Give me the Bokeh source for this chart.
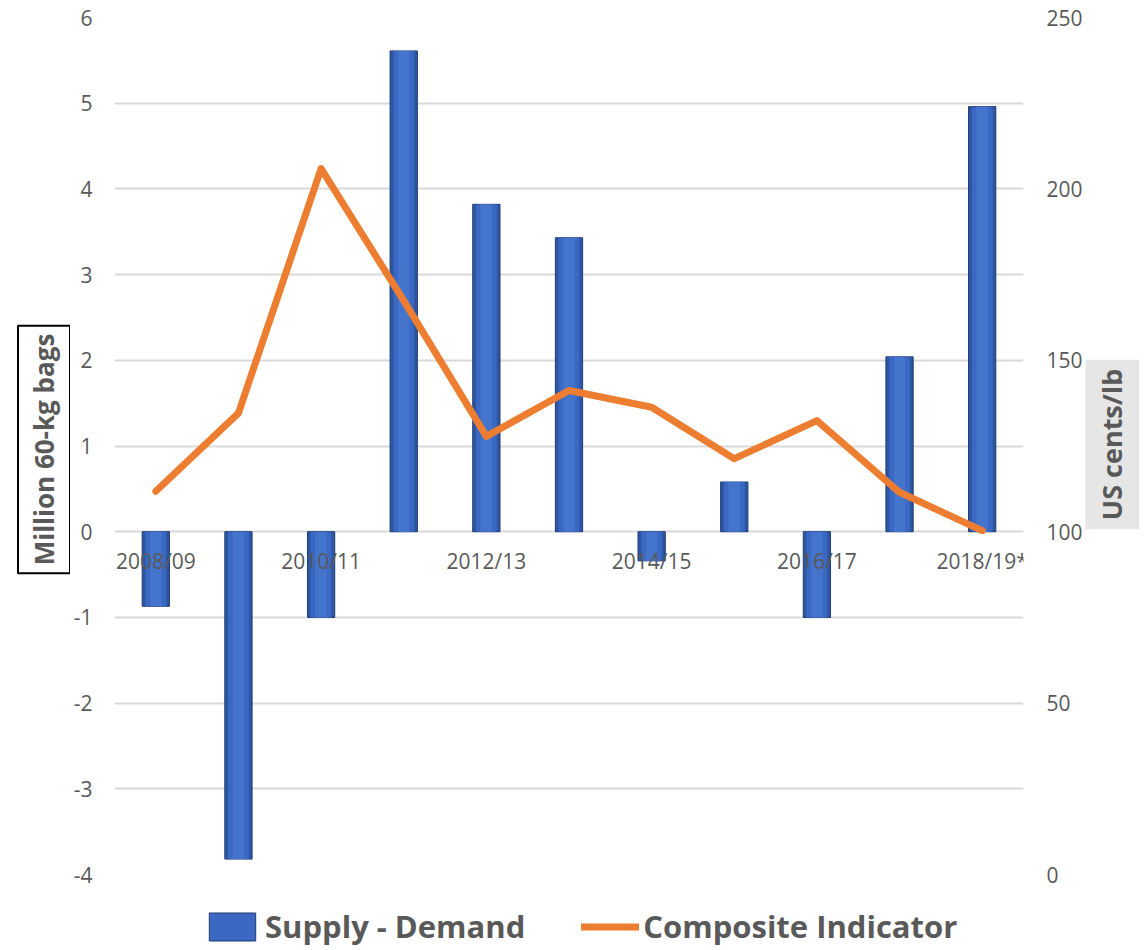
import math
from bokeh.plotting import figure
from bokeh.layouts import row, column
from bokeh.models import (Range1d, LinearAxis, FixedTicker, Legend, LegendItem,
                          ColumnDataSource, Label)
from bokeh.core.properties import value
from bokeh.embed import file_html
from bokeh.resources import INLINE

# ---- data ----
categories = ["2008/09", "2009/10", "2010/11", "2011/12", "2012/13", "2013/14",
              "2014/15", "2015/16", "2016/17", "2017/18", "2018/19*"]
supply_demand = [-0.87, -3.82, -1.0, 5.61, 3.82, 3.43, -0.34, 0.58, -1.0, 2.04, 4.96]
composite_indicator = [111.8, 134.6, 205.9, 167.4, 127.8, 141.2, 136.3, 121.3, 132.4, 111.5, 100.3]
left_ticks = [-4, -3, -2, -1, 0, 1, 2, 3, 4, 5, 6]
right_ticks = [0, 50, 100, 150, 200, 250]
shown_labels = categories[::2]
left_title_text = "Million 60-kg bags"
right_title_text = "US cents/lb"
series_names = ["Supply - Demand", "Composite Indicator"]

FONT = "Open Sans"
TXT = "#595959"
BAR_OUT, BAR_MID, BAR_IN, BAR_EDGE = "#2d56a3", "#3a68c2", "#4474cc", "#1e3b73"
ORANGE = "#ED7D31"
MAIN_H = 890


def blank_fig(w, h, xr=(0, 1), yr=(0, 1)):
    f = figure(width=w, height=h, output_backend="svg", toolbar_location=None,
               x_range=Range1d(*xr), y_range=Range1d(*yr),
               x_axis_location=None, y_axis_location=None, min_border=0)
    f.outline_line_color = None
    f.xgrid.grid_line_color = None
    f.ygrid.grid_line_color = None
    return f


# ---------------- main chart ----------------
xs = list(range(len(categories)))
src = ColumnDataSource(dict(x=xs, sd=supply_demand, ci=composite_indicator))
lab_src = ColumnDataSource(dict(x=[categories.index(c) for c in shown_labels],
                                y=[0] * len(shown_labels), t=shown_labels))

p = figure(width=1015, height=MAIN_H, output_backend="svg", toolbar_location=None,
           x_range=Range1d(-0.5, len(categories) - 0.5),
           y_range=Range1d(left_ticks[0], left_ticks[-1]),
           x_axis_location=None,
           min_border_left=43, min_border_right=60, min_border_top=17,
           min_border_bottom=16)
p.outline_line_color = None

p.extra_y_ranges = {"right": Range1d(right_ticks[0], right_ticks[-1])}
raxis = LinearAxis(y_range_name="right", ticker=FixedTicker(ticks=right_ticks))
p.add_layout(raxis, "right")

p.xgrid.grid_line_color = None
p.ygrid.ticker = FixedTicker(ticks=left_ticks)
p.ygrid.grid_line_color = "#d9d9d9"
p.ygrid.grid_line_width = 2

laxis = p.yaxis[0]
laxis.ticker = FixedTicker(ticks=left_ticks)
laxis.major_label_overrides = {t: str(t) for t in left_ticks}
for ax in [laxis, raxis]:
    ax.axis_line_color = None
    ax.major_tick_line_color = None
    ax.minor_tick_line_color = None
    ax.major_label_text_font = FONT
    ax.major_label_text_font_size = "21px"
    ax.major_label_text_color = TXT
laxis.major_label_standoff = 16
raxis.major_label_standoff = 17

# bars (layered to imitate the bevelled gradient)
bar_r = p.vbar(x="x", top="sd", bottom=0, width=0.33, source=src,
               fill_color=BAR_OUT, line_color=BAR_EDGE, line_width=1)
p.vbar(x="x", top="sd", bottom=0, width=0.25, source=src,
       fill_color=BAR_MID, line_color=None)
p.vbar(x="x", top="sd", bottom=0, width=0.14, source=src,
       fill_color=BAR_IN, line_color=None)

# category labels sitting on the zero line
p.text(x="x", y="y", text="t", source=lab_src, y_offset=29,
       text_align="center", text_baseline="middle",
       text_font=value(FONT), text_font_size="21px", text_color=TXT)

p.line(x="x", y="ci", source=src, y_range_name="right",
       line_color=ORANGE, line_width=7, line_join="round", line_cap="round")

# ---------------- axis titles ----------------
lf = blank_fig(70, MAIN_H)
lf.add_layout(Label(x=43.5, y=425, x_units="screen", y_units="screen",
                    text=left_title_text, angle=math.pi / 2,
                    text_align="center", text_baseline="middle",
                    text_font=FONT, text_font_style="bold", text_font_size="26px",
                    text_color=TXT, border_line_color="black", border_line_width=2,
                    padding=8))

rf = blank_fig(55, MAIN_H)
rf.add_layout(Label(x=26, y=430, x_units="screen", y_units="screen",
                    text=right_title_text, angle=math.pi / 2,
                    text_align="center", text_baseline="middle",
                    text_font=FONT, text_font_style="bold", text_font_size="27px",
                    text_color=TXT, background_fill_color="#e6e6e6",
                    border_line_color=None, padding=9))

# ---------------- legend strip ----------------
# the legend strip re-uses the series, but its ranges keep them out of view
gf = blank_fig(1140, 58, xr=(-100, -99), yr=(-1000, -999))
leg_bar = gf.vbar(x="x", top="sd", width=0.33, source=src,
                  fill_color=BAR_MID, line_color=BAR_EDGE, line_width=1)
leg_line = gf.line(x="x", y="ci", source=src, line_color=ORANGE,
                   line_width=7, line_cap="round")
legend = Legend(items=[LegendItem(label=series_names[0], renderers=[leg_bar]),
                       LegendItem(label=series_names[1], renderers=[leg_line])],
                orientation="horizontal", location=(203, 1),
                glyph_width=58, glyph_height=35, label_standoff=4, spacing=56,
                padding=0, margin=0, border_line_color=None, background_fill_alpha=0,
                label_text_font=FONT, label_text_font_style="bold",
                label_text_font_size="31px", label_text_color=TXT)
gf.add_layout(legend, "center")

layout = column(row(lf, p, rf), gf)
open("out.html", "w").write(file_html(layout, INLINE))
